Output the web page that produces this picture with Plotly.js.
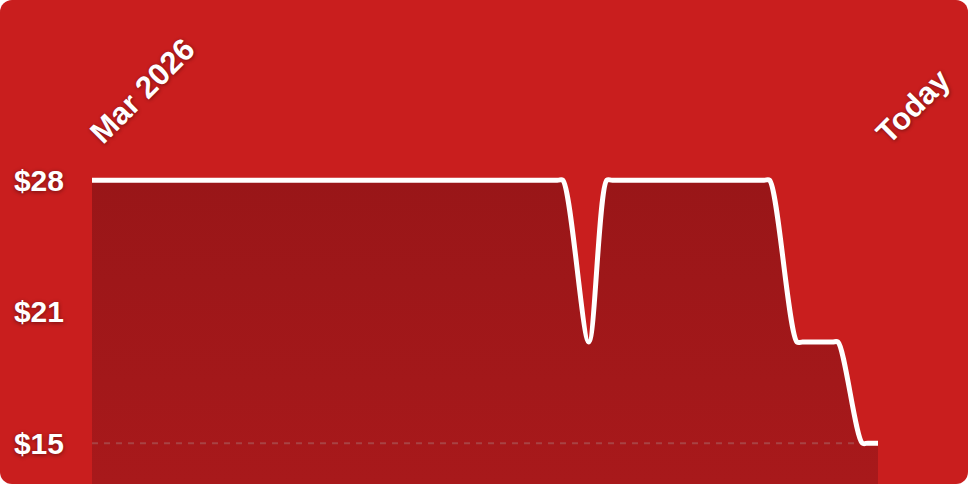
<!DOCTYPE html>
<html>
<head>
<meta charset="utf-8">
<script src="https://cdn.plot.ly/plotly-3.0.1.min.js"></script>
<style>
  html, body { margin: 0; padding: 0; background: #ffffff; }
  #chart { width: 968px; height: 484px; border-radius: 12px; overflow: hidden; }
</style>
</head>
<body>
<div id="chart"></div>
<script>
// price history, days since start of Mar 2026
var days = [0, 59.2, 59.9, 63.2, 65.5, 66.2, 85.5, 86.2, 89.7, 90.4, 94.2, 94.9, 98.0, 98.7, 100];
var prices = [27.99, 27.99, 27.99, 19.99, 27.99, 27.99, 27.99, 27.99, 19.99, 19.99, 19.99, 19.99, 14.99, 14.99, 14.99];

var priceTicks = [14.99, 21.49, 27.99];
var priceLabels = ['$15', '$21', '$28'];
var dateTicks = [0, 100];
var dateLabels = ['Mar 2026', 'Today'];

var bg = '#c91e1e';
var labelFont = {
    family: '"Liberation Sans", Arial, sans-serif',
    size: 30,
    color: '#ffffff',
    weight: 'bold',
    shadow: '0px 1px 4px rgba(0,0,0,0.45)'
};

var data = [{
    x: days,
    y: prices,
    type: 'scatter',
    mode: 'lines',
    line: { color: '#ffffff', width: 5, shape: 'spline', smoothing: 0.85 },
    fill: 'tozeroy',
    fillgradient: {
        type: 'vertical',
        start: 13,
        stop: 28,
        colorscale: [[0, '#a8191b'], [1, '#991618']]
    },
    hoverinfo: 'skip'
}];

var layout = {
    width: 968,
    height: 484,
    margin: { l: 92, r: 90, t: 160, b: 0 },
    paper_bgcolor: bg,
    plot_bgcolor: bg,
    showlegend: false,
    xaxis: {
        range: [0, 100],
        side: 'top',
        tickvals: dateTicks,
        ticktext: dateLabels,
        tickangle: -45,
        tickfont: Object.assign({}, labelFont, { size: 31 }),
        ticks: '',
        ticklabelstandoff: 3,
        showgrid: false,
        zeroline: false,
        showline: false,
        fixedrange: true
    },
    yaxis: {
        range: [12.97, 28.99],
        tickvals: priceTicks,
        ticktext: priceLabels,
        tickfont: labelFont,
        ticks: '',
        ticklabelstandoff: 27,
        showgrid: false,
        zeroline: false,
        showline: false,
        fixedrange: true
    },
    shapes: [{
        type: 'line',
        xref: 'x',
        x0: 0,
        x1: 97,
        yref: 'y',
        y0: 14.99,
        y1: 14.99,
        layer: 'above',
        line: { color: 'rgba(170,120,120,0.45)', width: 2, dash: '6px,6px' }
    }]
};

Plotly.newPlot('chart', data, layout, { displayModeBar: false, staticPlot: true });
</script>
</body>
</html>
